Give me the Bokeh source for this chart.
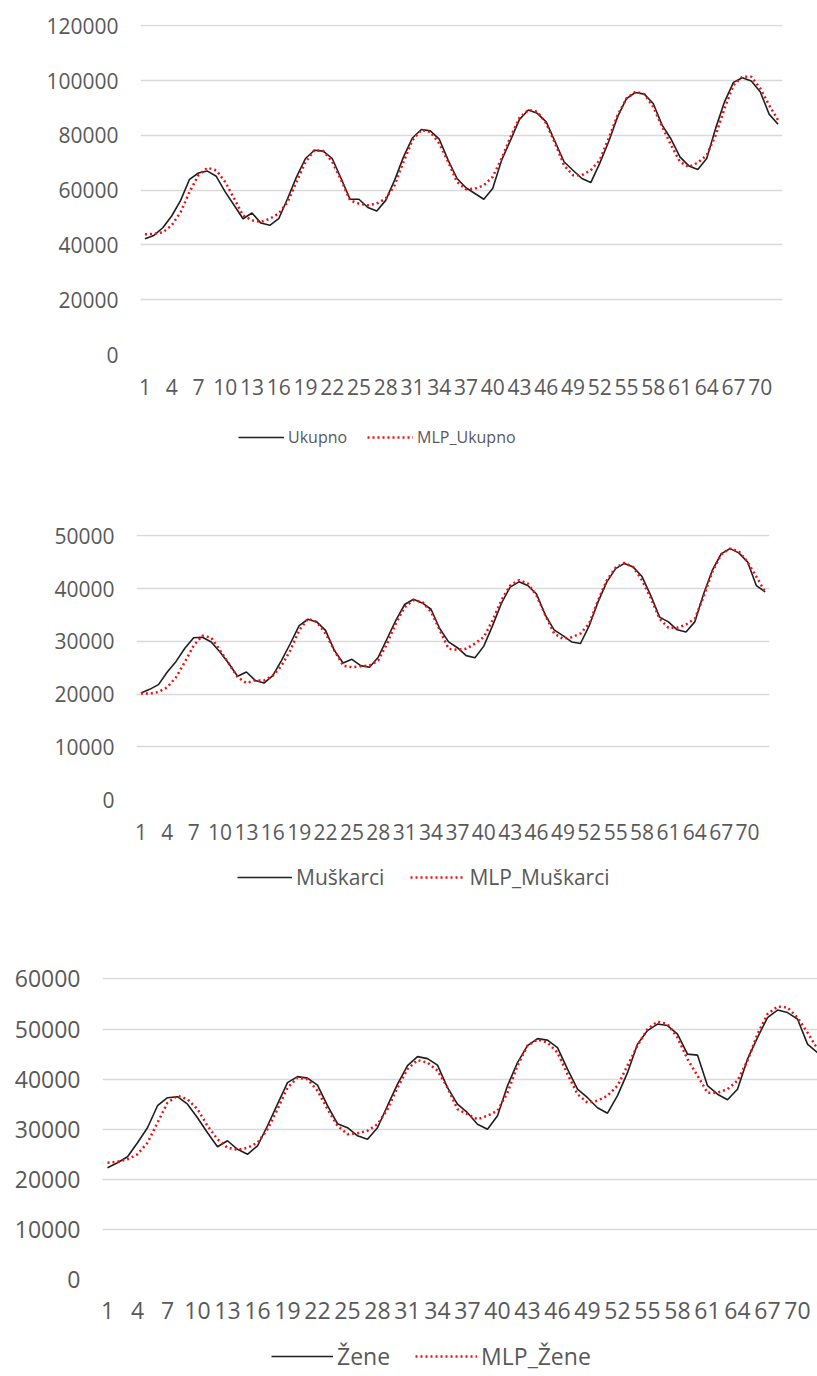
from bokeh.plotting import figure
from bokeh.models import FixedTicker, BasicTickFormatter, Legend, LegendItem, Range1d
from bokeh.embed import file_html
from bokeh.resources import INLINE

periods = list(range(1, 73))
x_ticks = list(range(1, 72, 3))

ukupno = [42300, 43500, 46300, 50600, 56300, 64000, 66300, 67000, 65100, 59400, 54500, 49600,
          51700, 48000, 47200, 49600, 57000, 64900, 71600, 74600, 74300, 71600, 64300, 56700,
          56700, 53700, 52400, 56300, 63700, 72200, 79100, 82200, 81700, 78700, 71000, 64300,
          60900, 58800, 56700, 60600, 71000, 78300, 85900, 89300, 88100, 85000, 77700, 70400,
          67300, 64300, 62800, 69800, 77700, 86800, 93500, 95700, 95100, 91700, 83800, 78700,
          72200, 68900, 67600, 71600, 82600, 92300, 99400, 101100, 99900, 96000, 87800, 84100]
mlp_ukupno = [43900, 44100, 44600, 47200, 52000, 59400, 65500, 68200, 67300, 63000, 57000, 50800,
              49000, 48400, 49600, 51500, 55700, 63000, 70400, 74600, 74300, 70400, 63700, 56300,
              55100, 54500, 55100, 57000, 61800, 70400, 78300, 82000, 81300, 77100, 70400, 63000,
              60400, 60600, 61800, 64900, 71600, 79500, 86500, 89300, 88700, 84400, 77100, 69100,
              65500, 65500, 67300, 71000, 78900, 87400, 93500, 96000, 95100, 90500, 83200, 76500,
              70400, 68500, 70100, 72800, 80100, 89900, 98400, 101500, 101500, 97200, 91100, 85600]

muskarci = [20200, 20900, 21800, 24200, 26200, 28700, 30700, 30800, 29900, 28000, 25800, 23400,
            24200, 22600, 22100, 23500, 26400, 29600, 33000, 34200, 33700, 32100, 28300, 25900,
            26600, 25400, 25100, 27000, 30500, 34000, 37000, 38000, 37300, 36100, 32400, 29900,
            28800, 27300, 26900, 29100, 33000, 37200, 40300, 41300, 40600, 39000, 35000, 32200,
            31100, 29900, 29600, 33000, 37500, 41300, 43800, 44800, 44100, 42300, 38700, 34600,
            33700, 32200, 31800, 33700, 39000, 43500, 46600, 47600, 46800, 45100, 40600, 39400]
mlp_muskarci = [20100, 20100, 20400, 21300, 23200, 26100, 29200, 31100, 30700, 28300, 25800, 23200,
                22100, 22600, 22600, 23500, 25400, 28300, 32100, 34300, 33700, 31500, 28300, 25400,
                25100, 25300, 25400, 26400, 29600, 33400, 36500, 37800, 37500, 35600, 32100, 28600,
                28400, 28600, 29600, 30800, 34000, 37800, 40600, 41600, 41000, 38700, 35000, 31500,
                30500, 30800, 31500, 33400, 37800, 41600, 44000, 44900, 44100, 41600, 38200, 34300,
                32600, 32600, 33200, 34300, 38500, 43200, 46500, 47600, 47100, 45100, 42300, 39400]

zene = [22300, 23300, 24500, 27300, 30300, 34700, 36300, 36500, 35000, 32300, 29300, 26500,
        27700, 26000, 25000, 26700, 30700, 35000, 39300, 40500, 40200, 38800, 34700, 31100,
        30300, 28700, 28000, 30300, 34700, 39000, 42700, 44500, 44100, 42800, 38300, 35000,
        33300, 31000, 30000, 32700, 38700, 43300, 46700, 48100, 47800, 46300, 42000, 38000,
        36300, 34300, 33200, 36700, 41300, 47000, 49700, 51000, 50700, 49000, 45000, 44800,
        38700, 37000, 35900, 38000, 44000, 48300, 52300, 53800, 53300, 52000, 47000, 45300]
mlp_zene = [23300, 23500, 24000, 25000, 27300, 31300, 35300, 36700, 36000, 34000, 30700, 28000,
            26300, 25900, 26300, 27300, 30000, 34000, 38300, 40300, 40000, 37700, 34000, 30700,
            29000, 29200, 29700, 31000, 34000, 38300, 42000, 43800, 43300, 41700, 38300, 34000,
            33000, 32000, 32700, 33700, 37300, 42700, 46700, 47900, 47300, 45300, 41000, 37000,
            35300, 35700, 36700, 38700, 42700, 46700, 50000, 51500, 51000, 48300, 44000, 40700,
            37300, 37300, 38000, 39700, 43700, 49000, 53000, 54500, 54300, 52300, 49300, 46000]

y_ticks_1 = [0, 20000, 40000, 60000, 80000, 100000, 120000]
y_ticks_2 = [0, 10000, 20000, 30000, 40000, 50000]
y_ticks_3 = [0, 10000, 20000, 30000, 40000, 50000, 60000]

names_1 = ["Ukupno", "MLP_Ukupno"]
names_2 = ["Muškarci", "MLP_Muškarci"]
names_3 = ["Žene", "MLP_Žene"]

FONT = "Open Sans"
TXT = "#595959"
BLACK = dict(line_color="#1f1f1f", line_width=1.6)
RED = dict(line_color="#ee1111", line_width=2.5, line_dash="2 3")


def make(actual, model, yticks, fw, fh, bl, br, bt, bb, xend, fs, xstand):
    top = yticks[-1] * (1 + 1.5 / fh)
    p = figure(frame_width=fw, frame_height=fh, output_backend="svg", toolbar_location=None,
               x_range=Range1d(0.5, xend), y_range=Range1d(0, top),
               min_border_left=bl, min_border_right=br, min_border_top=bt,
               min_border_bottom=bb)
    p.outline_line_color = None
    p.line(periods, actual, **BLACK)
    p.line(periods, model, **RED)
    p.xgrid.grid_line_color = None
    p.ygrid.grid_line_color = "#d9d9d9"
    p.ygrid.grid_line_width = 1.3
    p.yaxis.ticker = FixedTicker(ticks=yticks)
    p.yaxis.formatter = BasicTickFormatter(use_scientific=False)
    p.xaxis.ticker = FixedTicker(ticks=x_ticks)
    for ax in (p.xaxis[0], p.yaxis[0]):
        ax.axis_line_color = None
        ax.major_tick_line_color = None
        ax.minor_tick_line_color = None
        ax.major_tick_out = 0
        ax.major_tick_in = 0
        ax.major_label_text_font = FONT
        ax.major_label_text_font_size = f"{fs}px"
        ax.major_label_text_color = TXT
    p.yaxis.major_label_standoff = 22
    p.xaxis.major_label_standoff = xstand
    return p


def make_legend(actual, model, names, h, lx, vy, lfs, glyph_w, spacing):
    # legend strip: the series are drawn outside the visible range, only the legend shows
    q = figure(width=817, height=h, output_backend="svg", toolbar_location=None,
               x_range=Range1d(-20, -10), y_range=Range1d(0, 1), min_border=0)
    q.outline_line_color = None
    q.axis.visible = False
    q.grid.visible = False
    r1 = q.line(periods, actual, **BLACK)
    r2 = q.line(periods, model, **RED)
    leg = Legend(items=[LegendItem(label=names[0], renderers=[r1]),
                        LegendItem(label=names[1], renderers=[r2])],
                 orientation="horizontal", location=(lx, vy))
    leg.border_line_color = None
    leg.background_fill_alpha = 0
    leg.label_text_font = FONT
    leg.label_text_font_size = f"{lfs}px"
    leg.label_text_color = TXT
    leg.label_height = 22
    leg.glyph_height = 22
    leg.glyph_width = glyph_w
    leg.label_standoff = 4
    leg.spacing = spacing
    leg.margin = 0
    leg.padding = 0
    q.add_layout(leg, "center")
    return q


p1 = make(ukupno, mlp_ukupno, y_ticks_1, 642, 330, 140, 35, 24, 50, 72.5, 21, 24)
l1 = make_legend(ukupno, mlp_ukupno, names_1, 96, 238, 52, 16, 46, 20)
p2 = make(muskarci, mlp_muskarci, y_ticks_2, 633, 265, 136, 48, 34, 50, 72.5, 21, 24)
l2 = make_legend(muskarci, mlp_muskarci, names_2, 97, 237, 55, 21, 55, 26)
p3 = make(zene, mlp_zene, y_ticks_3, 715, 302, 102, 0, 31, 48, 72.0, 23, 22)
l3 = make_legend(zene, mlp_zene, names_3, 47, 271, 2, 23, 62, 25)

open("out.html", "w").write(file_html([p1, l1, p2, l2, p3, l3], INLINE))
